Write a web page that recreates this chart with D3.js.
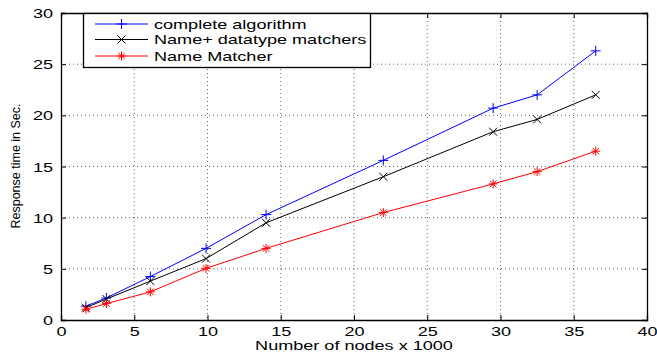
<!DOCTYPE html>
<html><head><meta charset="utf-8">
<script src="https://cdn.jsdelivr.net/npm/d3@7"></script>
<style>
body{margin:0;background:#fff;}
svg{display:block;}
text{font-family:"Liberation Sans",Arial,Helvetica,sans-serif;}
</style></head><body>
<svg id="c" width="657" height="353"></svg>
<script>
const xValues = [1.7, 3.1, 6.1, 9.9, 14, 22, 29.5, 32.5, 36.5];
const completeAlgorithm = [1.35, 2.15, 4.25, 7.0, 10.3, 15.6, 20.7, 22.0, 26.3];
const nameDatatype = [1.2, 2.05, 3.8, 6.0, 9.5, 14.0, 18.4, 19.6, 22.0];
const nameMatcher = [1.05, 1.6, 2.75, 5.05, 7.0, 10.5, 13.3, 14.5, 16.5];
const xTicks = [0,5,10,15,20,25,30,35,40];
const yTicks = [0,5,10,15,20,25,30];
const seriesNames = ["complete algorithm","Name+ datatype matchers","Name Matcher"];

const svg = d3.select("#c");
const L=61, R=647, T=13, B=320;
const SX = 1.39, FS = 13;
const x = d3.scaleLinear().domain([0,40]).range([L,R]);
const y = d3.scaleLinear().domain([0,30]).range([B,T]);

// grid
const g = svg.append("g");
g.selectAll(".gx").data(xTicks.slice(1,-1)).enter().append("line")
  .attr("x1",d=>x(d)).attr("x2",d=>x(d)).attr("y1",T).attr("y2",B)
  .attr("stroke","#000").attr("stroke-width",0.6).attr("stroke-dasharray","1,3");
g.selectAll(".gy").data(yTicks.slice(1,-1)).enter().append("line")
  .attr("y1",d=>y(d)).attr("y2",d=>y(d)).attr("x1",L).attr("x2",R)
  .attr("stroke","#000").attr("stroke-width",0.6).attr("stroke-dasharray","1,3");

// axes
const ax = svg.append("g").attr("transform",`translate(0,${B})`)
  .call(d3.axisBottom(x).tickValues(xTicks).tickSize(-5));
const axT = svg.append("g").attr("transform",`translate(0,${T})`)
  .call(d3.axisTop(x).tickValues(xTicks).tickSize(-5).tickFormat(""));
const ay = svg.append("g").attr("transform",`translate(${L},0)`)
  .call(d3.axisLeft(y).tickValues(yTicks).tickSize(-5));
const ayR = svg.append("g").attr("transform",`translate(${R},0)`)
  .call(d3.axisRight(y).tickValues(yTicks).tickSize(-5).tickFormat(""));
[ax,axT,ay,ayR].forEach(a=>{
  a.attr("font-family",null).attr("font-size",null);
  a.select(".domain").attr("stroke","#000").attr("stroke-width",1.3);
  a.selectAll("line").attr("stroke","#000");
  a.selectAll("text").attr("font-size",FS+"px").attr("fill","#000");
});
ax.selectAll("text").attr("y",0).attr("dy",0)
  .attr("transform",`translate(0,15.5) scale(${SX},1)`);
ay.selectAll("text").attr("x",0).attr("dy","0.35em")
  .attr("transform",`translate(-8,0) scale(${SX},1)`);

// series
const series = [
  {name:seriesNames[0], vals:completeAlgorithm, color:"#0000ff", marker:"plus"},
  {name:seriesNames[1], vals:nameDatatype, color:"#000000", marker:"x"},
  {name:seriesNames[2], vals:nameMatcher, color:"#ff0000", marker:"star"}
];
function drawMarker(sel, type, color, cx, cy){
  const gm = sel.append("g").attr("transform",`translate(${cx},${cy})`)
    .attr("stroke",color).attr("stroke-width",1).attr("fill","none");
  if(type==="plus"||type==="star"){
    const r = type==="star"?4.5:5;
    gm.append("line").attr("x1",-r).attr("x2",r).attr("y1",0).attr("y2",0);
    gm.append("line").attr("x1",0).attr("x2",0).attr("y1",-r).attr("y2",r);
  }
  if(type==="x"||type==="star"){
    const r = type==="star"?3.3:4;
    gm.append("line").attr("x1",-r).attr("x2",r).attr("y1",-r).attr("y2",r);
    gm.append("line").attr("x1",-r).attr("x2",r).attr("y1",r).attr("y2",-r);
  }
}
const line = d3.line().x(d=>x(d[0])).y(d=>y(d[1]));
series.forEach(s=>{
  const pts = xValues.map((v,i)=>[v,s.vals[i]]);
  svg.append("path").datum(pts).attr("d",line).attr("fill","none")
    .attr("stroke",s.color).attr("stroke-width",1);
  pts.forEach(p=>drawMarker(svg,s.marker,s.color,x(p[0]),y(p[1])));
});

// legend
const lg = svg.append("g");
lg.append("rect").attr("x",83.5).attr("y",13.5).attr("width",287).attr("height",54)
  .attr("fill","#fff").attr("stroke","#000").attr("stroke-width",1.3);
const rowsY=[24,39.5,56];
series.forEach((s,i)=>{
  lg.append("line").attr("x1",95).attr("x2",148).attr("y1",rowsY[i]).attr("y2",rowsY[i])
    .attr("stroke",s.color).attr("stroke-width",1);
  drawMarker(lg,s.marker,s.color,121.5,rowsY[i]);
  lg.append("text").attr("transform",`translate(154,${rowsY[i]}) scale(${SX},1)`)
    .attr("dy","0.35em").attr("font-size",FS+"px").text(s.name);
});

// axis labels
svg.append("text").attr("transform",`translate(${(L+R)/2},350) scale(${SX},1)`)
  .attr("text-anchor","middle").attr("font-size",FS+"px").text("Number of nodes x 1000");
svg.append("text").attr("transform",`translate(20,166) rotate(-90)`)
  .attr("text-anchor","middle").attr("font-size","12.5px")
  .text("Response time in Sec.");
</script>
</body></html>
